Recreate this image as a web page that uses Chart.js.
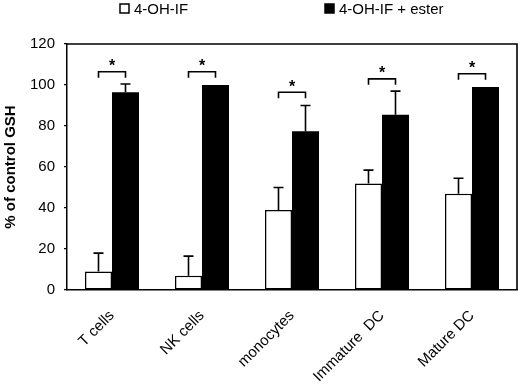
<!DOCTYPE html>
<html>
<head>
<meta charset="utf-8">
<script src="https://cdn.jsdelivr.net/npm/chart.js@4/dist/chart.umd.min.js"></script>
<style>
  html, body { margin: 0; padding: 0; background: #fff; }
  #wrap { width: 520px; height: 384px; position: relative; }
</style>
</head>
<body>
<div id="wrap"><canvas id="chart"></canvas></div>
<script>
// data
var categories = ['T cells', 'NK cells', 'monocytes', 'Immature  DC', 'Mature DC'];
var seriesNames = ['4-OH-IF', '4-OH-IF + ester'];
var ohIf = [9, 7, 39, 52, 47];
var ohIfErr = [9, 9.5, 11, 6.5, 7.5];
var ester = [96.5, 100, 77.5, 85.5, 99];
var esterErr = [4, 0, 12.5, 11.5, 0];
var bracketAt = [106.5, 106.5, 96.5, 103, 105.5];
var yTicks = [0, 20, 40, 60, 80, 100, 120];

var fontFam = '"Liberation Sans", Arial, sans-serif';

// error bars, significance brackets, frame and legend
var extras = {
    id: 'extras',
    afterDatasetsDraw: function(chart) {
        var ctx = chart.ctx;
        var y = chart.scales.y;
        var area = chart.chartArea;
        var errs = [ohIfErr, esterErr];
        ctx.save();
        ctx.strokeStyle = '#000';
        ctx.lineWidth = 1.6;

        // frame (top + right)
        ctx.beginPath();
        ctx.moveTo(area.left, area.top);
        ctx.lineTo(area.right, area.top);
        ctx.lineTo(area.right, area.bottom);
        ctx.stroke();

        for (var d = 0; d < 2; d++) {
            var meta = chart.getDatasetMeta(d);
            var vals = chart.data.datasets[d].data;
            for (var i = 0; i < vals.length; i++) {
                if (!errs[d][i]) continue;
                var bx = meta.data[i].x;
                var top = y.getPixelForValue(vals[i]);
                var et = y.getPixelForValue(vals[i] + errs[d][i]);
                ctx.beginPath();
                ctx.moveTo(bx, top);
                ctx.lineTo(bx, et);
                ctx.moveTo(bx - 5, et);
                ctx.lineTo(bx + 5, et);
                ctx.stroke();
            }
        }

        var m0 = chart.getDatasetMeta(0), m1 = chart.getDatasetMeta(1);
        ctx.fillStyle = '#000';
        ctx.font = 'bold 16px ' + fontFam;
        ctx.textAlign = 'center';
        ctx.textBaseline = 'middle';
        for (var j = 0; j < bracketAt.length; j++) {
            var x0 = m0.data[j].x, x1 = m1.data[j].x;
            var by = y.getPixelForValue(bracketAt[j]);
            ctx.beginPath();
            ctx.moveTo(x0, by + 6);
            ctx.lineTo(x0, by);
            ctx.lineTo(x1, by);
            ctx.lineTo(x1, by + 6);
            ctx.stroke();
            ctx.fillText('*', (x0 + x1) / 2, by - 5);
        }

        // legend
        ctx.font = '15px ' + fontFam;
        ctx.textAlign = 'left';
        ctx.textBaseline = 'alphabetic';
        var lx = [120, 325];
        for (var k = 0; k < 2; k++) {
            var ds = chart.data.datasets[k];
            ctx.fillStyle = ds.backgroundColor;
            ctx.fillRect(lx[k], 4, 9, 9);
            ctx.lineWidth = 1.5;
            ctx.strokeRect(lx[k], 4, 9, 9);
            ctx.fillStyle = '#000';
            ctx.fillText(ds.label, lx[k] + 14, 14);
        }
        ctx.restore();
    }
};

new Chart(document.getElementById('chart'), {
    type: 'bar',
    data: {
        labels: categories,
        datasets: [{
            label: seriesNames[0],
            data: ohIf,
            backgroundColor: '#ffffff',
            borderColor: '#000',
            borderWidth: 1.5,
            borderSkipped: false
        }, {
            label: seriesNames[1],
            data: ester,
            backgroundColor: '#000000',
            borderColor: '#000',
            borderWidth: 0
        }]
    },
    options: {
        responsive: true,
        maintainAspectRatio: false,
        animation: false,
        layout: { padding: { top: 44, right: 3, left: 0, bottom: 0 } },
        datasets: { bar: { categoryPercentage: 0.6, barPercentage: 1.0 } },
        plugins: { legend: { display: false }, tooltip: { enabled: false } },
        scales: {
            x: {
                grid: { display: false },
                border: { color: '#000', width: 1.5 },
                ticks: {
                    color: '#000',
                    font: { family: fontFam, size: 15 },
                    minRotation: 45, maxRotation: 45, padding: 9
                },
                afterFit: function(s) { s.height = 94; }
            },
            y: {
                min: 0, max: 120,
                afterBuildTicks: function(s) { s.ticks = yTicks.map(function(v) { return { value: v }; }); },
                grid: { drawOnChartArea: false, drawTicks: true, tickLength: 3, color: '#000', lineWidth: 1.2 },
                border: { color: '#000', width: 1.5 },
                ticks: { color: '#000', font: { family: fontFam, size: 15 }, padding: 9 },
                title: {
                    display: true, text: '% of control GSH', color: '#000',
                    font: { family: fontFam, size: 15, weight: 'bold' }, padding: { top: 2, bottom: 0 }
                },
                afterFit: function(s) { s.width = 67; }
            }
        }
    },
    plugins: [extras]
});
</script>
</body>
</html>
